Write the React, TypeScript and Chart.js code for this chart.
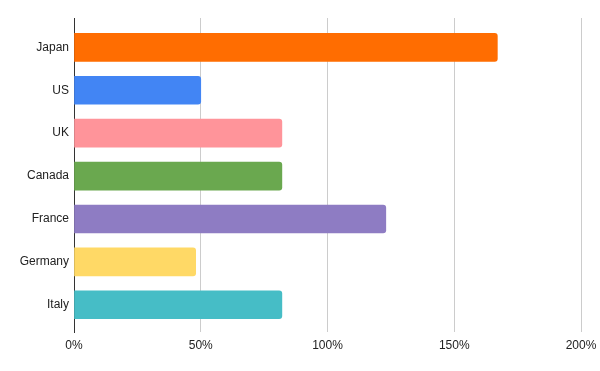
import React, { useEffect, useRef } from "react";
import { Chart, registerables } from "chart.js";

Chart.register(...registerables);

const categories = ["Japan", "US", "UK", "Canada", "France", "Germany", "Italy"];
const values = [167, 50, 82, 82, 123, 48, 82];
const colors = ["#ff6d01", "#4285f4", "#ff949a", "#6aa84f", "#8e7cc3", "#ffd966", "#46bdc6"];
const xTicks = [0, 50, 100, 150, 200];

export default function App() {
  const ref = useRef<HTMLCanvasElement | null>(null);

  useEffect(() => {
    document.body.style.margin = "0";
    const canvas = ref.current;
    if (!canvas) return;
    const font = { family: "'Liberation Sans', Arial, sans-serif", size: 12 };
    const chart = new Chart(canvas, {
      type: "bar",
      data: {
        datasets: [
          {
            data: categories.map((c, i) => ({ x: values[i], y: i })),
            backgroundColor: colors,
            barThickness: 28,
            borderRadius: 3,
            borderSkipped: "start",
          },
        ],
      },
      options: {
        indexAxis: "y",
        responsive: false,
        animation: false,
        layout: { padding: { top: 18, right: 1, left: 0, bottom: 0 } },
        plugins: { legend: { display: false }, tooltip: { enabled: false } },
        scales: {
          x: {
            type: "linear",
            min: 0,
            max: 200,
            afterBuildTicks: (s: any) => {
              s.ticks = xTicks.map((v) => ({ value: v }));
            },
            ticks: {
              font,
              color: "#222",
              padding: 6,
              callback: (v: any) => v + "%",
            },
            grid: { color: "#cccccc", drawTicks: false, lineWidth: 1 },
            border: { display: false },
            afterFit: (s: any) => {
              s.height = 39;
              s.paddingRight = 19;
            },
          },
          y: {
            type: "linear",
            reverse: true,
            offset: false,
            min: -0.685,
            max: 6.635,
            afterBuildTicks: (s: any) => {
              s.ticks = categories.map((c, i) => ({ value: i }));
            },
            ticks: {
              font,
              color: "#222",
              padding: 5,
              callback: (v: any) => categories[v] ?? "",
            },
            grid: { display: false, drawTicks: false, offset: false },
            border: { display: true, color: "#333333", width: 1 },
            afterFit: (s: any) => {
              s.width = 74;
            },
          },
        },
      },
    });
    return () => chart.destroy();
  }, []);

  return (
    <div style={{ width: 600, height: 371, background: "#fff" }}>
      <canvas ref={ref} width={600} height={371} />
    </div>
  );
}
